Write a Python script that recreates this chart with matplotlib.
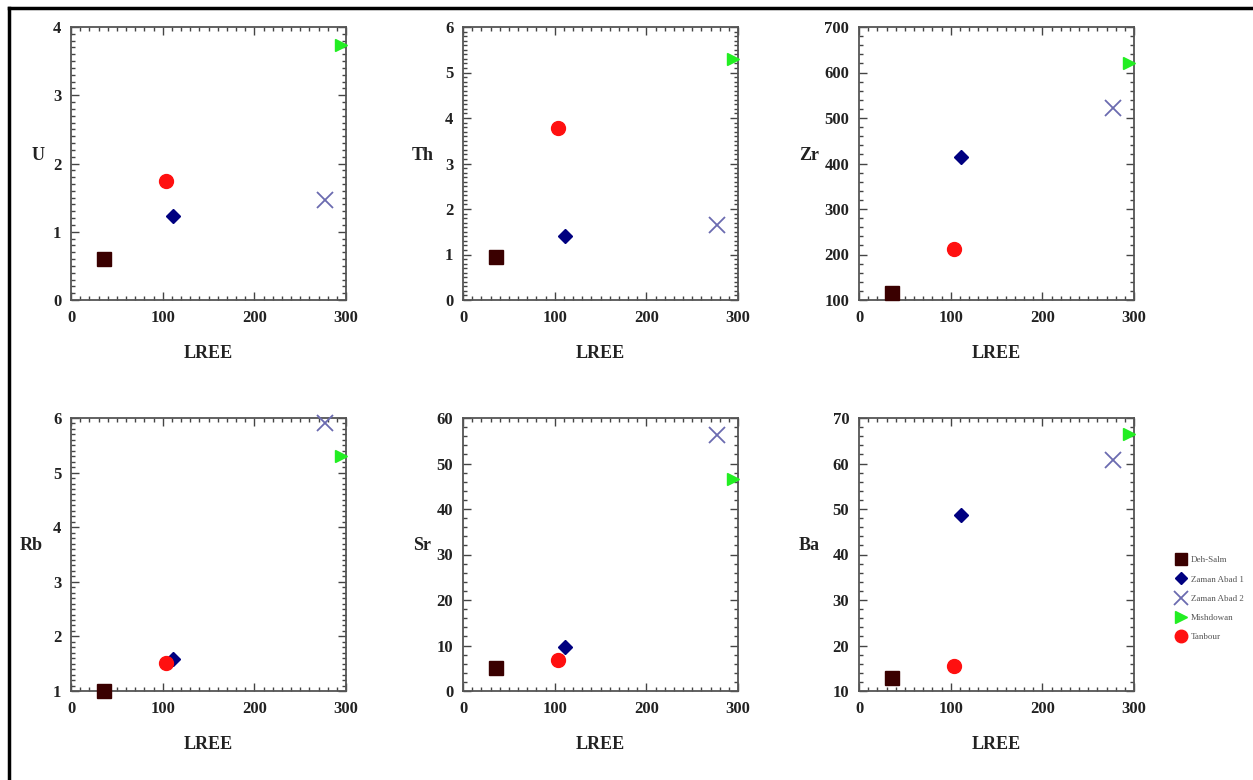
import numpy as np
import matplotlib
matplotlib.use("Agg")
import matplotlib.pyplot as plt
from matplotlib.ticker import MultipleLocator
from matplotlib.lines import Line2D

plt.rcParams['font.family'] = ['Liberation Serif', 'DejaVu Serif']

# groups (same order everywhere)
groups = ["Deh-Salm", "Zaman Abad 1", "Zaman Abad 2", "Mishdowan", "Tanbour"]
lree = [36, 111, 277, 295, 104]

U = [0.60, 1.23, 1.46, 3.74, 1.75]
Th = [0.95, 1.40, 1.64, 5.29, 3.79]
Zr = [115, 414, 522, 620, 212]
Rb = [1.00, 1.59, 5.91, 5.30, 1.51]
Sr = [5.1, 9.7, 56.3, 46.7, 6.8]
Ba = [12.9, 48.7, 60.7, 66.5, 15.5]

elements = ["U", "Th", "Zr", "Rb", "Sr", "Ba"]
values = [U, Th, Zr, Rb, Sr, Ba]
ylims = [(0, 4), (0, 6), (100, 700), (1, 6), (0, 60), (10, 70)]
ymajor = [1, 1, 100, 1, 10, 10]
yminor = [0.1, 0.1, 20, 0.1, 2, 2]
label_x = [-0.12, -0.145, -0.18, -0.145, -0.15, -0.18]

# marker styles per group
markers = ["s", "D", "x", ">", "o"]
colors = ["#3a0000", "#000080", "#6b6bb0", "#22ee22", "#ff1010"]
msizes = [10, 7, 11, 9, 10]

fig = plt.figure(figsize=(12.53, 7.8), dpi=100)

W, H = 1253, 780
lefts = [71, 463, 859]
tops = [27, 418]
aw, ah = 275, 273

axes = []
for k in range(6):
    r, c = divmod(k, 3)
    ax = fig.add_axes([lefts[c] / W, 1 - (tops[r] + ah) / H, aw / W, ah / H])
    axes.append(ax)

for k, ax in enumerate(axes):
    vals = values[k]
    for g in range(len(groups)):
        if markers[g] == "x":
            ax.plot(lree[g], vals[g], marker="x", ms=msizes[g], mew=1.3,
                    color=colors[g], ls="none", label=groups[g], clip_on=False, zorder=3)
        else:
            ax.plot(lree[g], vals[g], marker=markers[g], ms=msizes[g],
                    color=colors[g], mec=colors[g], ls="none", label=groups[g],
                    clip_on=False, zorder=3)
    ax.set_xlim(0, 300)
    ax.set_ylim(*ylims[k])
    ax.xaxis.set_major_locator(MultipleLocator(100))
    ax.xaxis.set_minor_locator(MultipleLocator(10))
    ax.yaxis.set_major_locator(MultipleLocator(ymajor[k]))
    ax.yaxis.set_minor_locator(MultipleLocator(yminor[k]))
    ax.tick_params(which="both", direction="in", top=True, right=True,
                   color="#444444", width=1.0)
    ax.tick_params(which="major", length=6, labelsize=12, pad=7)
    ax.tick_params(which="minor", length=3)
    for lbl in ax.get_xticklabels() + ax.get_yticklabels():
        lbl.set_fontweight("bold")
        lbl.set_color("#222222")
    for sp in ax.spines.values():
        sp.set_color("#555555")
        sp.set_linewidth(1.3)
    ax.set_xlabel("LREE", fontsize=13, fontweight="bold", color="#222222", labelpad=14)
    ax.set_ylabel(elements[k], fontsize=13, fontweight="bold", color="#222222", rotation=0)
    ax.yaxis.set_label_coords(label_x[k], 0.5)

handles, labels = axes[0].get_legend_handles_labels()
leg = fig.legend(handles, labels, loc="upper left", bbox_to_anchor=(1168 / W, 1 - 548 / H),
                 frameon=False, fontsize=6.5, markerscale=0.9, handlelength=1.0,
                 handletextpad=0.6, labelspacing=1.2)
for t in leg.get_texts():
    t.set_color("#555555")

# outer frame (cut on the right and bottom)
fig.add_artist(Line2D([9 / W, 9 / W], [0, 1 - 8 / H], transform=fig.transFigure,
                      color="black", lw=2.5))
fig.add_artist(Line2D([9 / W, 1], [1 - 8 / H, 1 - 8 / H], transform=fig.transFigure,
                      color="black", lw=2.5))

fig.savefig("out.png", dpi=100)
